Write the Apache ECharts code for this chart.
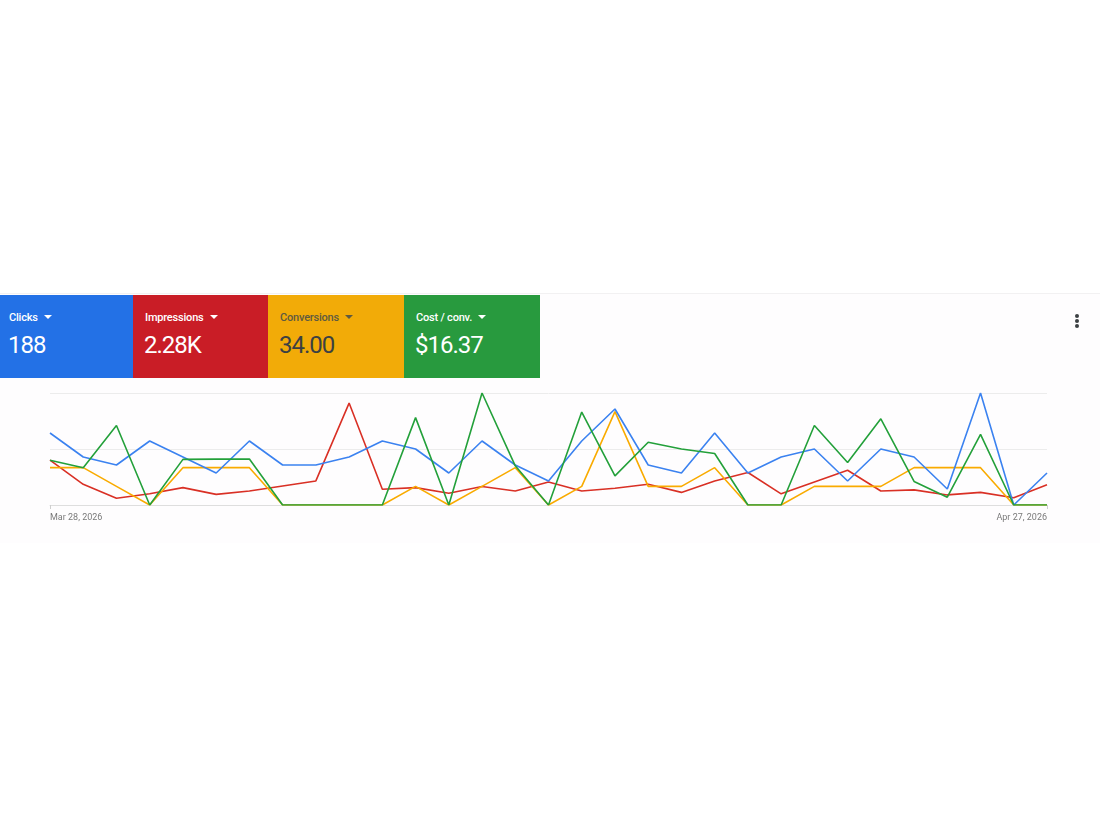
<!DOCTYPE html>
<html>
<head>
<meta charset="utf-8">
<script src="https://cdn.jsdelivr.net/npm/echarts@6/dist/echarts.min.js"></script>
<style>
  html, body { margin: 0; padding: 0; background: #ffffff; }
  body { width: 1100px; height: 825px; position: relative; overflow: hidden; font-family: Roboto, "Noto Sans", Arial, sans-serif; }
  #card { position: absolute; left: 0; top: 293px; width: 1100px; height: 249px; background: #fefdfe; border-top: 1px solid #f2f1f2; }
  #chart { position: absolute; left: 0; top: 0; width: 1100px; height: 825px; }
  .tile { position: absolute; top: 295px; height: 83px; box-sizing: border-box; color: #ffffff; }
  .tile .lab { position: absolute; top: 16px; left: 12px; font-size: 11px; font-weight: 500; white-space: nowrap; letter-spacing: -0.2px; }
  .tile .lab .caret { display: inline-block; width: 0; height: 0; border-left: 4px solid transparent; border-right: 4px solid transparent; border-top: 4px solid currentColor; margin-left: 6px; vertical-align: 2px; }
  .tile .val { position: absolute; top: 36px; left: 11px; font-size: 24px; font-weight: 400; white-space: nowrap; letter-spacing: -1px; }
  .dot { position: absolute; left: 1075px; width: 4px; height: 4px; border-radius: 2px; background: #3c4043; }
</style>
</head>
<body>
<div id="card"></div>
<div id="chart"></div>
<div class="tile" style="left:0;width:133px;background:#2371e6;"><div class="lab" style="left:9px;">Clicks<span class="caret"></span></div><div class="val" style="left:8px;">188</div></div>
<div class="tile" style="left:133px;width:135px;background:#c91d26;"><div class="lab">Impressions<span class="caret"></span></div><div class="val">2.28K</div></div>
<div class="tile" style="left:268px;width:136px;background:#f2ab08;color:#3c4043;"><div class="lab" style="color:#5f5a40;">Conversions<span class="caret"></span></div><div class="val">34.00</div></div>
<div class="tile" style="left:404px;width:136px;background:#289a3e;"><div class="lab">Cost / conv.<span class="caret"></span></div><div class="val">$16.37</div></div>
<div class="dot" style="top:314px;"></div>
<div class="dot" style="top:319px;"></div>
<div class="dot" style="top:324px;"></div>
<script>
const dates = ['Mar 28, 2026','Mar 29, 2026','Mar 30, 2026','Mar 31, 2026','Apr 1, 2026','Apr 2, 2026','Apr 3, 2026','Apr 4, 2026','Apr 5, 2026','Apr 6, 2026','Apr 7, 2026','Apr 8, 2026','Apr 9, 2026','Apr 10, 2026','Apr 11, 2026','Apr 12, 2026','Apr 13, 2026','Apr 14, 2026','Apr 15, 2026','Apr 16, 2026','Apr 17, 2026','Apr 18, 2026','Apr 19, 2026','Apr 20, 2026','Apr 21, 2026','Apr 22, 2026','Apr 23, 2026','Apr 24, 2026','Apr 25, 2026','Apr 26, 2026','Apr 27, 2026'];
const clicks = [9,6,5,8,6,4,8,5,5,6,8,7,4,8,5,3,8,12,5,4,9,4,6,7,3,7,6,2,14,0,4];
const impressions = [160,74,24,40,62,38,50,68,86,364,56,62,42,66,50,82,50,60,74,45,86,116,40,82,124,50,54,36,45,26,72];
const conversions = [2,2,1,0,2,2,2,0,0,0,0,1,0,1,2,0,1,5,1,1,2,0,0,1,1,1,2,2,2,0,0];
const costPerConv = [16,13.33,28.4,0,16.3,16.4,16.4,0,0,0,0,31.2,0,40,14,0,33.2,10.4,22.4,20,18.4,0,0,28.4,15.2,30.8,8.4,2.8,25.2,0,0];
const axisMax = { clicks: 14, impressions: 400, conversions: 6, cost: 40 };

const chart = echarts.init(document.getElementById('chart'), null, { renderer: 'canvas' });
const lastIdx = dates.length - 1;
function yAx(max, show) {
  return {
    type: 'value', min: 0, max: max, interval: max / 2,
    show: true,
    axisLine: { show: false }, axisTick: { show: false }, axisLabel: { show: false },
    splitLine: { show: show, lineStyle: { color: '#ececec', width: 1 } }
  };
}
function ser(name, data, color, yi, z) {
  return { name: name, type: 'line', data: data, yAxisIndex: yi, symbol: 'none', z: z,
    lineStyle: { color: color, width: 1.6 }, itemStyle: { color: color }, animation: false };
}
chart.setOption({
  backgroundColor: 'transparent',
  animation: false,
  grid: { left: 50, right: 53, top: 393, bottom: 320, containLabel: false },
  xAxis: {
    type: 'category', data: dates, boundaryGap: false,
    axisLine: { show: true, lineStyle: { color: '#dedede', width: 1 } },
    axisTick: { show: true, length: 4, lineStyle: { color: '#cfcfcf' }, interval: function (i) { return i === 0 || i === lastIdx; } },
    axisLabel: { show: true, color: '#7a7a7a', fontSize: 9, fontFamily: 'Roboto', margin: 8,
      interval: function (i) { return i === 0 || i === lastIdx; },
      alignMinLabel: 'left', alignMaxLabel: 'right' },
    splitLine: { show: false }
  },
  yAxis: [yAx(axisMax.clicks, true), yAx(axisMax.impressions, false), yAx(axisMax.conversions, false), yAx(axisMax.cost, false)],
  series: [
    ser('Impressions', impressions, '#d93025', 1, 2),
    ser('Conversions', conversions, '#f9ab00', 2, 3),
    ser('Clicks', clicks, '#3b82f0', 0, 4),
    ser('Cost / conv.', costPerConv, '#23a03a', 3, 5)
  ]
});
</script>
</body>
</html>
